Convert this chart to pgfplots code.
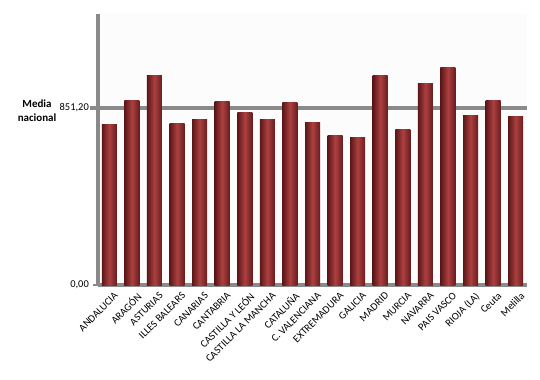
\documentclass[border=0pt]{standalone}
\usepackage{fontspec}
\setmainfont{Carlito}
\usepackage{pgfplots}
\pgfplotsset{compat=1.18}
\definecolor{bardark}{RGB}{92,22,24}
\definecolor{barlight}{RGB}{172,64,64}
\definecolor{axgray}{RGB}{138,138,138}
\pgfplotsset{mybar/.style={ybar, bar shift=0pt, bar width=15bp, draw=none, left color=bardark, right color=bardark!85!barlight, middle color=barlight, forget plot}}
\newcommand\onebar[2]{\addplot[mybar] coordinates {(#1,#2)};}
\begin{document}
\begin{tikzpicture}[x=1bp,y=1bp]
\path[use as bounding box] (0,0) rectangle (540,379);
\node[font=\fontsize{11}{14}\selectfont\bfseries, align=center] at (37,268.5) {Media\\nacional};
\begin{axis}[
  at={(98bp,94bp)}, anchor=south west,
  scale only axis, width=429bp, height=270.5bp,
  xmin=-0.5, xmax=18.5, ymin=0, ymax=1298,
  clip=false,
  axis background/.style={fill=white!98!gray},
  axis x line*=bottom, axis y line*=left,
  x axis line style={-, axgray, line width=4bp},
  y axis line style={-, axgray, line width=4bp},
  ytick={0,851.2}, yticklabels={0{,}00,851{,}20},
  ytick style={axgray, line width=1.5bp},
  major tick length=5bp, tick align=outside,
  xtick={0,...,18},
  xticklabels={ANDALUCIA,ARAGÓN,ASTURIAS,ILLES BALEARS,CANARIAS,CANTABRIA,CASTILLA Y LEÓN,CASTILLA LA MANCHA,CATALUÑA,C. VALENCIANA,EXTREMADURA,GALICIA,MADRID,MURCIA,NAVARRA,PAIS VASCO,RIOJA (LA),Ceuta,Melilla},
  xtick style={draw=none},
  minor xtick={-0.5,0.5,...,18.5},
  minor tick length=3bp,
  minor x tick style={axgray, line width=0.6bp},
  xticklabel style={rotate=45, anchor=north east, font=\fontsize{10.5}{12}\selectfont, inner sep=1bp, yshift=-3bp, xshift=3bp},
  yticklabel style={font=\fontsize{10.5}{12}\selectfont, inner sep=1bp, xshift=-3bp},
  /pgf/number format/assume math mode=true,
]
\addplot[axgray, line width=4bp] coordinates {(-0.85,851.2) (18.5,851.2)};
\onebar{0}{771}
\onebar{1}{883}
\onebar{2}{1007}
\onebar{3}{774}
\onebar{4}{792}
\onebar{5}{882}
\onebar{6}{827}
\onebar{7}{792}
\onebar{8}{877}
\onebar{9}{778}
\onebar{10}{715}
\onebar{11}{710}
\onebar{12}{1007}
\onebar{13}{745}
\onebar{14}{965}
\onebar{15}{1046}
\onebar{16}{811}
\onebar{17}{885}
\onebar{18}{810}
\end{axis}
\end{tikzpicture}
\end{document}
